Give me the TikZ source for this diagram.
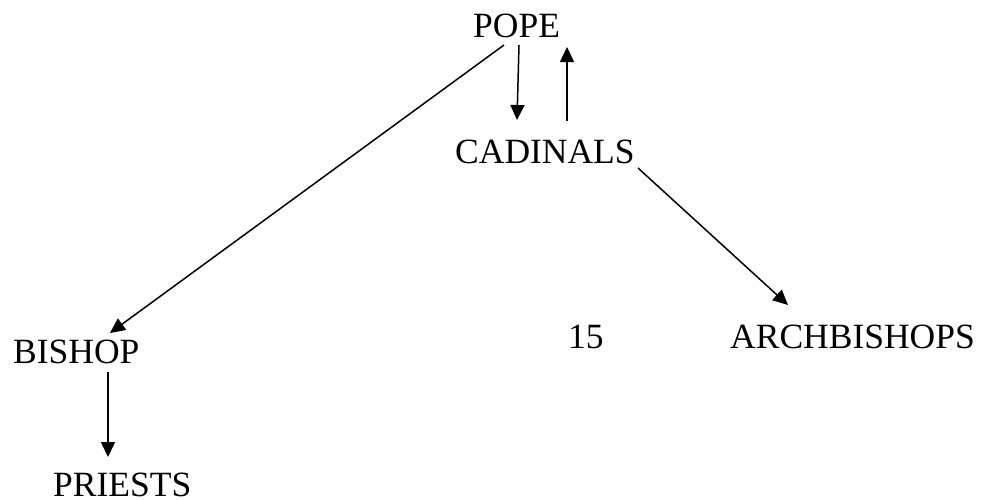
\documentclass[tikz,border=0pt]{standalone}
\usepackage{fontspec}
\setmainfont{Liberation Serif}
\usetikzlibrary{arrows.meta}
\begin{document}
\begin{tikzpicture}[x=1pt,y=-1pt,
  lbl/.style={anchor=base west,inner sep=0pt,font=\fontsize{35.5}{40}\selectfont},
  arr/.style={line width=1.5pt,-{Triangle[length=15pt,width=14pt]}}]
\useasboundingbox (0,0) rectangle (981,499);
\node[lbl] (pope) at (473,37) {POPE};
\node[lbl] (cad) at (455,163) {CADINALS};
\node[lbl] (bishop) at (13,363) {BISHOP};
\node[lbl] (priests) at (53,496) {PRIESTS};
\node[lbl] (num) at (568,348) {15};
\node[lbl] (arch) at (730,348) {ARCHBISHOPS};
\coordinate (p1) at (519,45);
\coordinate (c1) at (517,120);
\coordinate (c2) at (567,121);
\coordinate (p2) at (567,47);
\coordinate (p3) at (504,45);
\coordinate (b1) at (110,333);
\coordinate (b2) at (108,372);
\coordinate (r1) at (108,457);
\coordinate (c3) at (638,168);
\coordinate (a1) at (788,305);
\draw[arr] (p1) -- (c1);
\draw[arr] (c2) -- (p2);
\draw[arr] (p3) -- (b1);
\draw[arr] (b2) -- (r1);
\draw[arr] (c3) -- (a1);
\end{tikzpicture}
\end{document}
